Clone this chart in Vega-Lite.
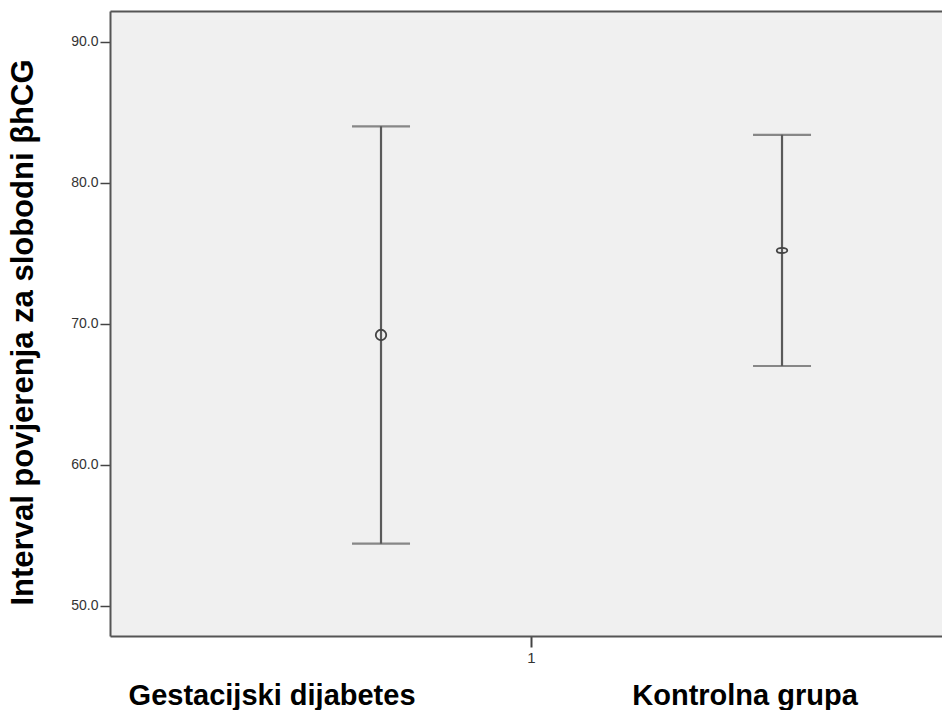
{
  "$schema": "https://vega.github.io/schema/vega-lite/v6.json",
  "width": 832,
  "height": 625,
  "padding": {"left": 7, "top": 11, "right": 0, "bottom": 0},
  "background": "white",
  "config": {"view": {"stroke": null, "fill": "#f0f0f0"}, "font": "Liberation Sans"},
  "data": {
    "values": [
      {"group": "Gestacijski dijabetes", "cluster": "1", "mean": 69.2, "low": 54.4, "high": 84.0},
      {"group": "Kontrolna grupa", "cluster": "1", "mean": 75.2, "low": 67.0, "high": 83.4}
    ]
  },
  "layer": [
    {
      "encoding": {
        "x": {
          "field": "group",
          "type": "nominal",
          "scale": {"type": "point", "domain": ["Gestacijski dijabetes", "Kontrolna grupa"], "padding": 0.5374, "align": 0.6288},
          "axis": {"orient": "top", "labels": false, "ticks": false, "domain": true, "domainColor": "#555555", "domainWidth": 2, "title": null}
        }
      },
      "layer": [
        {
          "mark": {"type": "rule", "color": "#5a5a5a", "strokeWidth": 2.2},
          "encoding": {
            "y": {
              "field": "low",
              "type": "quantitative",
              "scale": {"domain": [47.85, 92.18], "nice": false, "zero": false},
              "axis": {
                "title": "Interval povjerenja za slobodni βhCG",
                "titleFontSize": 31,
                "titleFontWeight": "bold",
                "titleColor": "#000000",
                "titlePadding": 31,
                "titleY": 321,
                "values": [50, 60, 70, 80, 90],
                "format": ".1f",
                "grid": false,
                "tickSize": 10,
                "tickWidth": 1.5,
                "tickColor": "#444444",
                "labelFontSize": 14,
                "labelColor": "#333333",
                "labelPadding": 2,
                "domainColor": "#555555",
                "domainWidth": 2
              }
            },
            "y2": {"field": "high"}
          }
        },
        {
          "mark": {"type": "tick", "color": "#5a5a5a", "thickness": 2.2, "size": 58, "orient": "horizontal"},
          "encoding": {"y": {"field": "low", "type": "quantitative"}}
        },
        {
          "mark": {"type": "tick", "color": "#5a5a5a", "thickness": 2.2, "size": 58, "orient": "horizontal"},
          "encoding": {"y": {"field": "high", "type": "quantitative"}}
        },
        {
          "mark": {"type": "point", "filled": false, "stroke": "#444444", "strokeWidth": 1.8, "size": 110, "opacity": 1},
          "encoding": {
            "y": {"field": "mean", "type": "quantitative"},
            "shape": {
              "field": "group",
              "type": "nominal",
              "scale": {"domain": ["Gestacijski dijabetes", "Kontrolna grupa"], "range": ["circle", "M-1,0A1,0.5 0 1,1 1,0A1,0.5 0 1,1 -1,0Z"]},
              "legend": null
            }
          }
        }
      ]
    },
    {
      "mark": {"type": "point", "opacity": 0},
      "encoding": {
        "x": {
          "field": "cluster",
          "type": "nominal",
          "scale": {"type": "point", "domain": ["1"], "padding": 0.5, "align": 0.506},
          "axis": {"orient": "bottom", "title": null, "tickSize": 11, "tickWidth": 2, "tickColor": "#444444", "domainColor": "#555555", "domainWidth": 2, "labelFontSize": 15, "labelColor": "#333333", "labelPadding": 3, "labelAngle": 0}
        }
      }
    },
    {
      "mark": {"type": "point", "opacity": 0},
      "encoding": {
        "x": {
          "field": "group",
          "type": "nominal",
          "scale": {"type": "point", "domain": ["Gestacijski dijabetes", "Kontrolna grupa"], "padding": 0.3795, "align": 0.45},
          "axis": {"orient": "bottom", "title": null, "domain": false, "ticks": false, "labelFontSize": 29, "labelFontWeight": "bold", "labelColor": "#000000", "labelPadding": 45, "labelLimit": 600, "labelAngle": 0}
        }
      }
    }
  ],
  "resolve": {"scale": {"x": "independent"}, "axis": {"x": "independent"}}
}
